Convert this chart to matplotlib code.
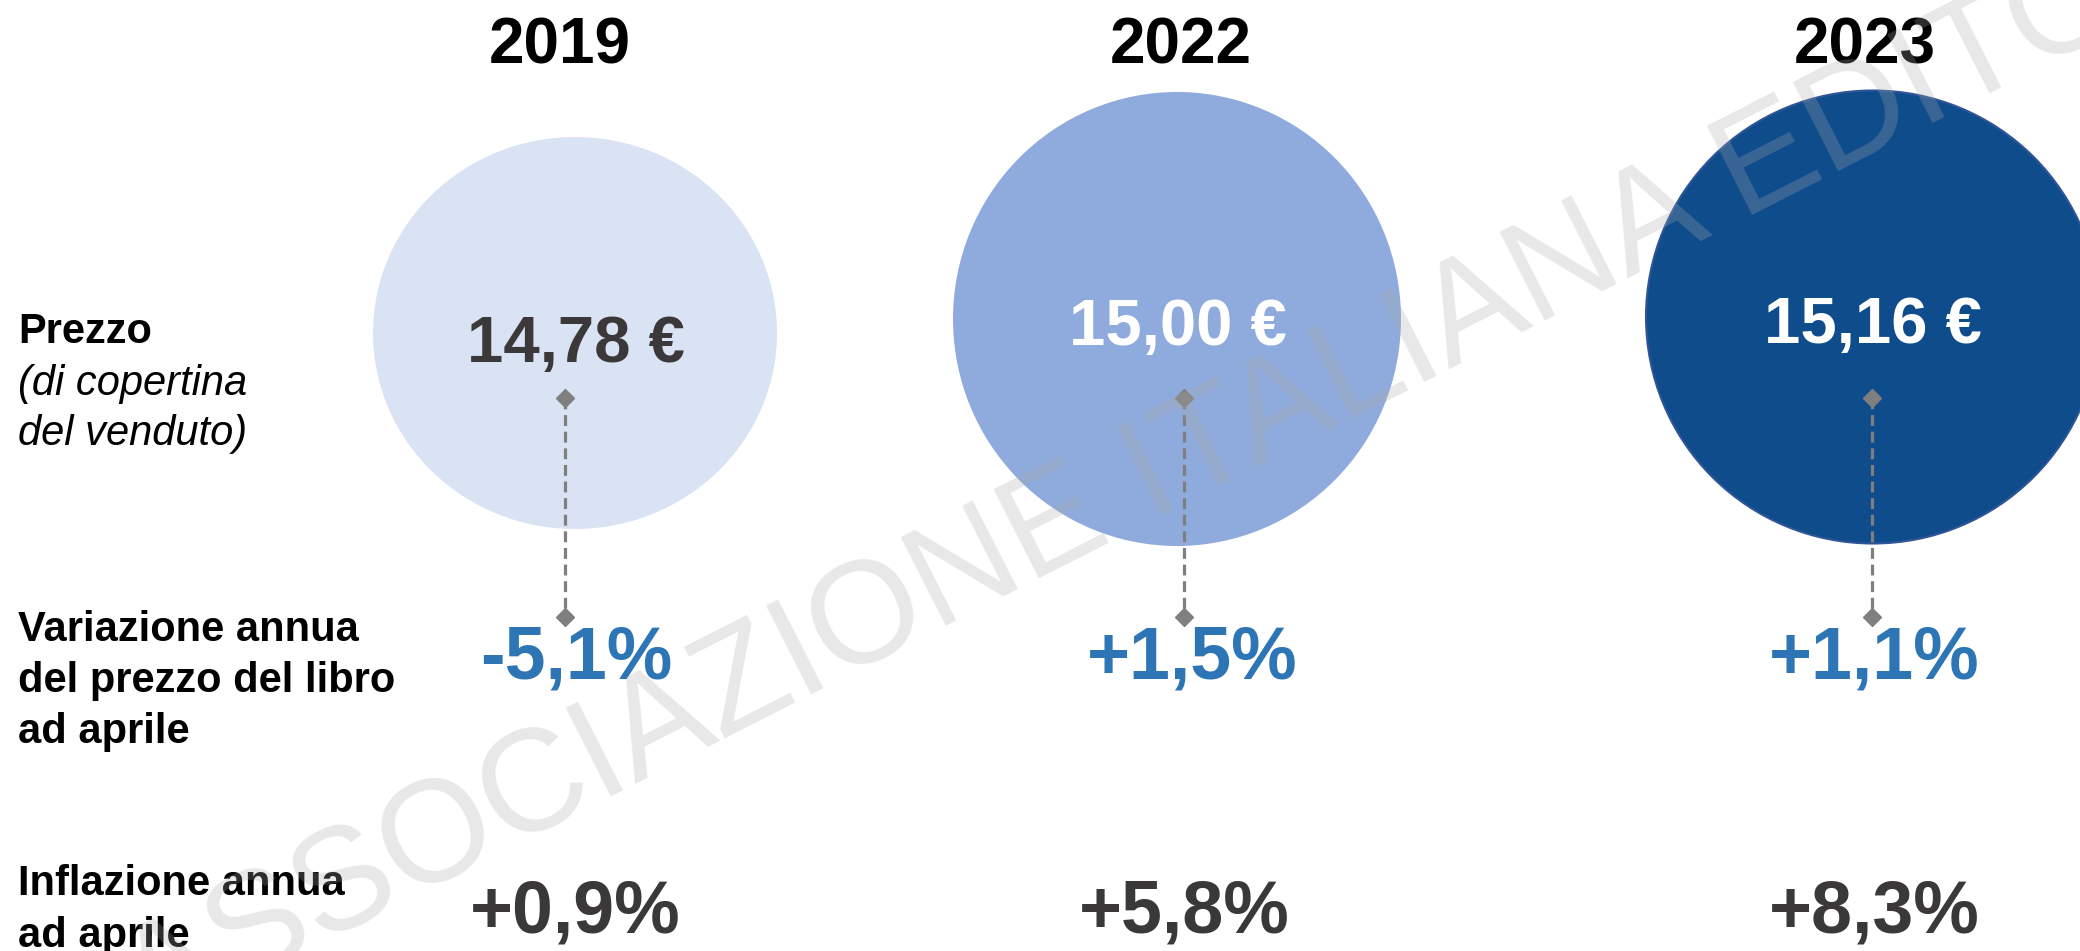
import matplotlib
matplotlib.use("Agg")
import matplotlib.pyplot as plt
from matplotlib.patches import Ellipse

plt.rcParams['font.family'] = ['Liberation Sans', 'DejaVu Sans']

# ---------------- data ----------------
years = ["2019", "2022", "2023"]
prices = [14.78, 15.00, 15.16]                # prezzo di copertina del venduto (€)
price_change = [-5.1, 1.5, 1.1]               # variazione annua del prezzo del libro ad aprile (%)
inflation = [0.9, 5.8, 8.3]                   # inflazione annua ad aprile (%)
row_label_prezzo = "Prezzo"
row_label_prezzo_sub = ["(di copertina", "del venduto)"]
row_label_variazione = ["Variazione annua", "del prezzo del libro", "ad aprile"]
row_label_inflazione = ["Inflazione annua", "ad aprile"]
watermark = "ASSOCIAZIONE ITALIANA EDITORI"

# ---------------- style / layout ----------------
circle_colors = ["#DAE3F3", "#8FAADC", "#0F4C8C"]
price_text_colors = ["#3A3838", "#FFFFFF", "#FFFFFF"]
blue = "#2E75B6"
dark = "#3A3838"
gray = "#7F7F7F"

W, H = 2080, 951
fig = plt.figure(figsize=(W / 100, H / 100), dpi=100)
ax = fig.add_axes([0, 0, 1, 1])
ax.set_xlim(0, W)
ax.set_ylim(H, 0)
ax.axis("off")

circle_x = [575, 1177, 1873]
circle_y = [333, 319, 317]
circle_w = [404, 448, 454]
circle_h = [392, 454, 453]
year_x = [560, 1181, 1865]
price_x = [576, 1178, 1873]
price_y = [362, 345, 343]
conn_x = [565, 1184, 1872]
change_x = [576, 1192, 1874]
infl_x = [575, 1184, 1874]

def fmt_price(v):
    return f"{v:.2f}".replace(".", ",") + " €"

def fmt_pct(v):
    return f"{v:+.1f}".replace(".", ",") + "%"

for i, yr in enumerate(years):
    edge = "#2F5597" if i == 2 else "none"
    ax.add_patch(Ellipse((circle_x[i], circle_y[i]), circle_w[i], circle_h[i],
                         facecolor=circle_colors[i], edgecolor=edge, lw=1.5, zorder=1))
    ax.text(year_x[i], 64, yr, ha="center", va="baseline", fontsize=46,
            fontweight="bold", color="black", zorder=3)
    ax.text(price_x[i], price_y[i], fmt_price(prices[i]), ha="center", va="baseline",
            fontsize=47, fontweight="bold", color=price_text_colors[i], zorder=3)
    # connector
    ax.plot([conn_x[i], conn_x[i]], [398, 617], color=gray, lw=2.3,
            linestyle=(0, (3.4, 1.8)), zorder=2, solid_capstyle="butt")
    ax.plot([conn_x[i], conn_x[i]], [398, 617], linestyle="none", marker="D",
            markersize=9, color=gray, zorder=2)
    ax.text(change_x[i], 678, fmt_pct(price_change[i]), ha="center", va="baseline",
            fontsize=53, fontweight="bold", color=blue, zorder=3)
    ax.text(infl_x[i], 933, fmt_pct(inflation[i]), ha="center", va="baseline",
            fontsize=53, fontweight="bold", color=dark, zorder=3)

# row labels
ax.text(18, 343, row_label_prezzo, ha="left", va="baseline", fontsize=30,
        fontweight="bold", color="black")
for j, t in enumerate(row_label_prezzo_sub):
    ax.text(18, 395 + 50 * j, t, ha="left", va="baseline", fontsize=30,
            fontstyle="italic", color="black")
for j, t in enumerate(row_label_variazione):
    ax.text(18, 641 + 51 * j, t, ha="left", va="baseline", fontsize=30,
            fontweight="bold", color="black")
for j, t in enumerate(row_label_inflazione):
    ax.text(18, 895 + 52 * j, t, ha="left", va="baseline", fontsize=30,
            fontweight="bold", color="black")

# watermark
ax.text(1205, 494, watermark, ha="center", va="baseline", rotation=27,
        rotation_mode="anchor", fontsize=104, color="#AAAAAA", alpha=0.27, zorder=5)

fig.savefig("out.png", dpi=100)
